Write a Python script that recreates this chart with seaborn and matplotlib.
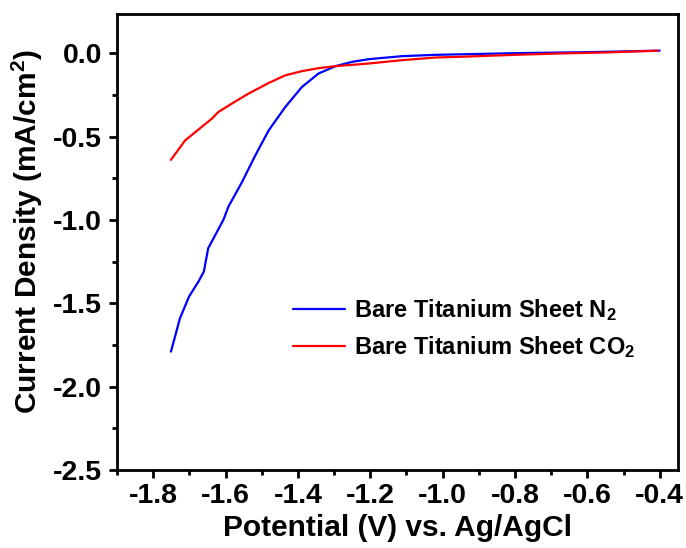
import matplotlib
matplotlib.use("Agg")
import matplotlib.pyplot as plt
import seaborn as sns
import pandas as pd
from matplotlib.ticker import MultipleLocator, FormatStrFormatter

# Linear sweep voltammetry of bare titanium sheet in N2 and CO2 saturated electrolyte
potential_n2 = [-1.751, -1.726, -1.701, -1.675, -1.660, -1.648, -1.606, -1.592, -1.555,
                -1.518, -1.481, -1.435, -1.389, -1.343, -1.296, -1.250, -1.204,
                -1.112, -1.019, -0.927, -0.80, -0.60, -0.40]
current_n2 = [-1.79, -1.59, -1.46, -1.37, -1.31, -1.17, -1.00, -0.92, -0.775,
              -0.614, -0.464, -0.323, -0.203, -0.122, -0.078, -0.052, -0.036,
              -0.018, -0.010, -0.006, 0.000, 0.006, 0.015]

potential_co2 = [-1.751, -1.712, -1.684, -1.638, -1.620, -1.583, -1.537, -1.481, -1.435,
                 -1.389, -1.343, -1.296, -1.204, -1.112, -1.019, -0.954, -0.80,
                 -0.677, -0.55, -0.405]
current_co2 = [-0.640, -0.524, -0.474, -0.393, -0.353, -0.303, -0.243, -0.179, -0.133,
               -0.108, -0.090, -0.078, -0.062, -0.042, -0.026, -0.022, -0.010,
               -0.002, 0.004, 0.015]

label_n2 = r"Bare Titanium Sheet N$_2$"
label_co2 = r"Bare Titanium Sheet CO$_2$"

df = pd.concat([
    pd.DataFrame({"Potential": potential_n2, "Current": current_n2, "Sample": label_n2}),
    pd.DataFrame({"Potential": potential_co2, "Current": current_co2, "Sample": label_co2}),
], ignore_index=True)

sns.set_style("ticks")
plt.rcParams["font.family"] = ["Liberation Sans", "DejaVu Sans"]
plt.rcParams["font.weight"] = "bold"
plt.rcParams["text.color"] = "black"
plt.rcParams["axes.labelcolor"] = "black"
plt.rcParams["xtick.color"] = "black"
plt.rcParams["ytick.color"] = "black"
plt.rcParams["mathtext.fontset"] = "custom"
plt.rcParams["mathtext.rm"] = "Liberation Sans:bold"
plt.rcParams["mathtext.it"] = "Liberation Sans:bold"
plt.rcParams["mathtext.bf"] = "Liberation Sans:bold"

fig = plt.figure(figsize=(6.86, 5.48), dpi=100)
ax = fig.add_axes([0.1706, 0.1423, 0.8174, 0.8322])

sns.lineplot(data=df, x="Potential", y="Current", hue="Sample", sort=False,
             palette={label_n2: "#0000ff", label_co2: "#ff0000"},
             linewidth=1.6, ax=ax, estimator=None)

ax.set_xlim(-1.9, -0.35)
ax.set_ylim(-2.5, 0.235)
ax.xaxis.set_major_locator(MultipleLocator(0.2))
ax.xaxis.set_minor_locator(MultipleLocator(0.1))
ax.yaxis.set_major_locator(MultipleLocator(0.5))
ax.yaxis.set_minor_locator(MultipleLocator(0.25))
ax.xaxis.set_major_formatter(FormatStrFormatter("%.1f"))
ax.yaxis.set_major_formatter(FormatStrFormatter("%.1f"))

for side in ["left", "right", "top", "bottom"]:
    ax.spines[side].set_visible(True)
    ax.spines[side].set_linewidth(2.0)
    ax.spines[side].set_color("black")

ax.tick_params(axis="both", which="major", direction="out", length=6, width=2,
               labelsize=20.5, color="black", labelcolor="black")
ax.tick_params(axis="x", which="major", pad=3.5)
ax.tick_params(axis="y", which="major", pad=5)
ax.tick_params(axis="both", which="minor", direction="out", length=3.5, width=2,
               color="black")
for lbl in ax.get_xticklabels() + ax.get_yticklabels():
    lbl.set_fontweight("bold")

ax.set_xlabel("Potential (V) vs. Ag/AgCl", fontsize=21.5, fontweight="bold",
              color="black")
ax.set_ylabel(r"Current Density (mA/cm$^2$)", fontsize=21.5, fontweight="bold",
              color="black")
ax.xaxis.set_label_coords(0.5, -0.097)
ax.yaxis.set_label_coords(-0.128, 0.522)

leg = ax.legend(loc="center left", bbox_to_anchor=(0.292, 0.31), frameon=False,
                handlelength=2.2, handletextpad=0.4, labelspacing=0.45, borderpad=0,
                prop={"weight": "bold", "size": 17})
for t in leg.get_texts():
    t.set_color("black")

fig.savefig("out.png", dpi=100)
